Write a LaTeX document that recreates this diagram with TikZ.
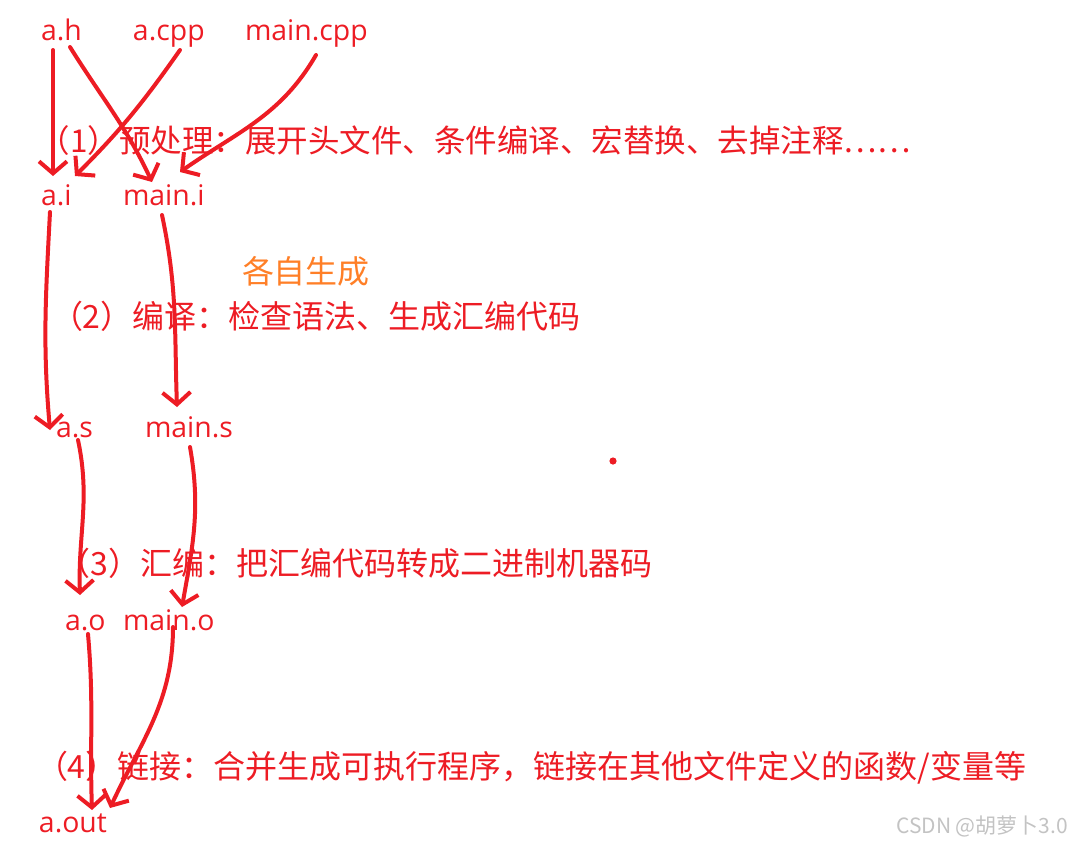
\documentclass[tikz,border=0pt]{standalone}
\usepackage{fontspec}
\setmainfont{Noto Sans CJK SC}
\newfontfamily\filefont{Open Sans}
\usetikzlibrary{arrows.meta}
\definecolor{pred}{RGB}{237,28,36}
\definecolor{porange}{RGB}{255,127,39}
\definecolor{pgrey}{RGB}{195,195,195}

\begin{document}
\begin{tikzpicture}[x=0.5pt,y=-0.5pt,line width=2pt,
  file/.style={pred,font=\filefont\fontsize{14.2}{16}\selectfont,inner sep=0pt,anchor=base west},
  stage/.style={pred,font=\fontsize{16}{18}\selectfont,inner sep=0pt,anchor=base west},
  hand/.style={pred,-{Straight Barb[length=6pt,width=14pt]},line cap=round,line join=round}]
  \useasboundingbox (0,0) rectangle (1073,843);
  \node[file] (ah) at (39,40) {a.h};
  \node[file] (acpp) at (131,40) {a.cpp};
  \node[file] (maincpp) at (243,40) {main.cpp};
  \node[file] (ai) at (39,205) {a.i};
  \node[file] (maini) at (121,205) {main.i};
  \node[file] (as) at (54,437) {a.s};
  \node[file] (mains) at (143,437) {main.s};
  \node[file] (ao) at (63,630) {a.o};
  \node[file] (maino) at (121,630) {main.o};
  \node[file] (aout) at (37,832) {a.out};
  \node[stage,font=\fontsize{15.75}{18}\selectfont] (pre) at (37,152) {（1）预处理：展开头文件、条件编译、宏替换、去掉注释……};
  \node[stage,porange] (each) at (240,283) {各自生成};
  \node[stage] (comp) at (49,328) {（2）编译：检查语法、生成汇编代码};
  \node[stage] (asm) at (57,575) {（3）汇编：把汇编代码转成二进制机器码};
  \node[stage] (link) at (34,778) {（4）链接：合并生成可执行程序，链接在其他文件定义的函数/变量等};
  \node[pgrey,font=\fontsize{10.5}{12}\selectfont,inner sep=0pt,anchor=base east] (mark) at (1070,833) {CSDN @胡萝卜3.0};
  \fill[pred] (613,461) circle (1.8pt);
  \draw[hand] ([shift={(14,10)}]ah.base west) -- ([shift={(14,-29)}]ai.base west);
  \draw[hand] ([shift={(31,7)}]ah.base west) to[out=-58,in=115] ([shift={(31,-23)}]maini.base west);
  \draw[hand] ([shift={(49,10)}]acpp.base west) to[out=-125,in=45] ([shift={(36,-29)}]ai.base west);
  \draw[hand] ([shift={(73,15)}]maincpp.base west) to[out=-120,in=35] ([shift={(59,-33)}]maini.base west);
  \draw[hand] ([shift={(11,7)}]ai.base west) to[out=-93,in=95] ([shift={(-4,-7)}]as.base west);
  \draw[hand] ([shift={(41,10)}]maini.base west) to[out=-78,in=92] ([shift={(34,-30)}]mains.base west);
  \draw[hand] ([shift={(24,3)}]as.base west) to[out=-78,in=92] ([shift={(17,-35)}]ao.base west);
  \draw[hand] ([shift={(47,10)}]mains.base west) to[out=-80,in=80] ([shift={(61,-23)}]maino.base west);
  \draw[hand] ([shift={(25,4)}]ao.base west) to[out=-85,in=92] ([shift={(55,-22)}]aout.base west);
  \draw[hand] ([shift={(52,-3)}]maino.base west) to[out=-90,in=65] ([shift={(73,-24)}]aout.base west);
\end{tikzpicture}
\end{document}
